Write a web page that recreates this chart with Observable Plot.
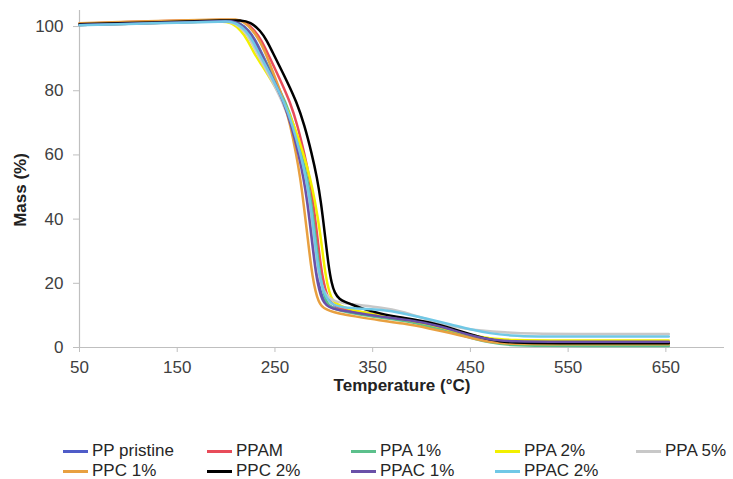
<!DOCTYPE html>
<html>
<head>
<meta charset="utf-8">
<script src="https://cdn.jsdelivr.net/npm/d3@7"></script>
<script src="https://cdn.jsdelivr.net/npm/@observablehq/plot@0.6"></script>
<style>
  body { margin: 0; background: #fff; }
  #wrap { position: relative; width: 733px; height: 479px; font-family: "Liberation Sans", Arial, sans-serif; }
  #legend { position: absolute; left: 0; top: 0; width: 733px; height: 479px; pointer-events: none; }
  .item { position: absolute; display: flex; align-items: center; font-size: 17px; color: #262626; white-space: nowrap; transform: translateY(-50%); }
  .swatch { width: 25px; height: 3px; margin-right: 4px; }
</style>
</head>
<body>
<div id="wrap"><div id="chart"></div><div id="legend"></div></div>
<script>
const seriesNames = ["PP pristine", "PPAM", "PPA 1%", "PPA 2%", "PPA 5%", "PPC 1%", "PPC 2%", "PPAC 1%", "PPAC 2%"];
const seriesColors = ["#4f5cc8", "#e84c5a", "#5cc08c", "#f2f000", "#c8c8c8", "#e8a040", "#000000", "#6a50a8", "#70c8e6"];
const xTicks = [50, 150, 250, 350, 450, 550, 650];
const yTicks = [0, 20, 40, 60, 80, 100];

// [temperature °C, mass %]
const ppPristine = [[50,100.5],[100,100.9],[150,101.3],[200,101.7],[206,101.7],[213.5,101.2],[223.5,98.8],[230.5,95.5],[236,92],[243.3,87.5],[251,82.5],[259.8,76.6],[267.5,69.5],[275.3,60],[280.1,53],[284,45.6],[288,35.5],[292,25],[295,19.5],[298,16],[301,14.2],[306,12.8],[313,12],[330,11],[358,10],[380,9.2],[409,7.6],[430,5.8],[450,3.8],[470,2.2],[490,1.7],[550,1.6],[600,1.6],[653,1.6]];
const ppam = [[50,100.9],[100,101.4],[150,101.8],[200,102.1],[212,102.1],[219.5,101.5],[229.5,98.8],[236.5,95.5],[242,92],[249.1,87.5],[256.7,82.5],[265.3,76.6],[272.9,69.5],[280.4,60],[285.2,53],[289,45.6],[293,35.5],[297,25],[300,20],[303,16.5],[306,14.5],[311,13],[318,12],[335,11],[358,10.2],[380,9.2],[409,7.4],[430,5.4],[450,3.4],[470,1.8],[490,1.3],[550,1.2],[600,1.2],[653,1.2]];
const ppa1 = [[50,100.6],[100,101],[150,101.4],[200,101.8],[205,101.8],[212.5,101.3],[222.5,98.8],[229.5,95.5],[235,92],[242.9,87.5],[251.3,82.5],[260.7,76.6],[269.2,69.5],[277.5,60],[282.8,53],[287,45.6],[291,35.5],[295,25],[298,19.5],[301,15.5],[304,13.5],[309,12.3],[316,11.5],[335,10.3],[358,9.3],[380,8.5],[409,6.5],[430,4.8],[450,3],[470,1.5],[490,0.7],[520,0.5],[600,0.5],[653,0.5]];
const ppa2 = [[50,100.5],[100,100.9],[150,101.3],[198,101.7],[205.5,101.2],[215.5,98.8],[222.5,95.5],[228,92],[237.6,87.5],[247.7,82.5],[259.2,76.6],[269.4,69.5],[279.5,60],[285.9,53],[291,45.6],[296.5,35.5],[300.5,25],[304,19],[307.5,15.5],[311,14],[318,12.8],[326,12],[340,11],[358,9.8],[380,9],[409,7.2],[430,5.4],[450,3.8],[470,2.8],[490,2.3],[550,2.2],[600,2.2],[653,2.2]];
const ppa5 = [[50,100.5],[100,100.9],[150,101.3],[200,101.6],[201,101.6],[208.5,101.1],[218.5,98.8],[225.5,95.5],[231,92],[239.2,87.5],[247.9,82.5],[257.7,76.6],[266.5,69.5],[275.2,60],[280.6,53],[285,45.6],[289,35.5],[293,25],[296,21],[300,17.5],[305,15.5],[312,14.3],[324,13.6],[340,13.1],[358,12.5],[380,11.3],[399,9.4],[427,6.8],[445,5.9],[460,5.3],[485,4.7],[512,4.3],[560,4.2],[600,4.2],[653,4.2]];
const ppc1 = [[50,101],[100,101.5],[150,101.9],[200,102.2],[210,102.3],[217.5,101.7],[227.5,98.8],[234.5,95.5],[240,92],[245.9,87.5],[252.2,82.5],[259.3,76.6],[265.6,69.5],[271.9,60],[275.8,53],[279,45.6],[283,35.5],[287,25],[290,19.5],[293,15.8],[296,13.5],[300,12.2],[306,11.4],[315,10.6],[330,9.8],[358,8.4],[380,7.6],[409,5.9],[430,4.5],[447,3.2],[470,1.6],[490,1.1],[550,1.0],[600,1.0],[653,1.0]];
const ppc2 = [[50,100.7],[100,101.1],[150,101.5],[200,101.9],[215,102.0],[225,101.4],[235,98.8],[242,95.5],[247.5,92],[255,87.5],[263,82.5],[272,76.6],[280,69.5],[288,60],[293,53],[297,45.6],[301,35.5],[305,25],[308,20],[311,17],[316,15],[322,14.2],[327,13.6],[340,12],[358,10.5],[380,9.3],[409,7.9],[437,5.3],[460,3.2],[480,1.8],[500,1.4],[550,1.3],[600,1.3],[653,1.3]];
const ppac1 = [[50,100.5],[100,100.9],[150,101.3],[200,101.7],[205,101.7],[212.5,101.2],[222.5,98.8],[229.5,95.5],[235,92],[242.3,87.5],[250,82.5],[258.8,76.6],[266.5,69.5],[274.3,60],[279.1,53],[283,45.6],[287,35.5],[291,25],[294,19.5],[297,16],[300,14],[305,12.6],[312,11.8],[330,11],[358,9.6],[380,8.8],[409,7.4],[430,5.6],[450,3.8],[470,2.4],[490,1.9],[550,1.8],[600,1.8],[653,1.8]];
const ppac2 = [[50,100.4],[100,100.8],[150,101.2],[200,101.6],[203,101.6],[210.5,101.1],[220.5,98.8],[227.5,95.5],[233,92],[241.1,87.5],[249.6,82.5],[259.2,76.6],[267.8,69.5],[276.4,60],[281.7,53],[286,45.6],[290,35.5],[294,25],[297.5,20],[301,16.5],[305,14.6],[310,13.2],[318,12.5],[340,12],[358,11.8],[380,10.8],[409,8.7],[430,7.2],[450,5.6],[470,4.4],[490,3.7],[520,3.4],[550,3.4],[600,3.4],[653,3.4]];

const seriesData = [ppPristine, ppam, ppa1, ppa2, ppa5, ppc1, ppc2, ppac1, ppac2];

const lineMarks = seriesData.map((pts, i) =>
  Plot.line(pts.map(([T, m]) => ({T, mass: m})), {
    x: "T", y: "mass", stroke: seriesColors[i], strokeWidth: 2.5, curve: "basis"
  })
);

const chart = Plot.plot({
  width: 733,
  height: 400,
  marginLeft: 79,
  marginRight: 9,
  marginTop: 10,
  marginBottom: 53,
  x: {domain: [50, 710]},
  y: {domain: [0, 105]},
  style: {fontFamily: "'Liberation Sans', Arial, sans-serif", background: "white", overflow: "visible"},
  marks: [
    Plot.ruleY([0], {stroke: "#bfbfbf", strokeWidth: 1.2}),
    Plot.ruleX([50], {y1: 0, y2: 105, stroke: "#bfbfbf", strokeWidth: 1.2}),
    Plot.axisX({ticks: xTicks, tickSize: 5, tickPadding: 8, fontSize: 17, stroke: "#bfbfbf", fill: "#404040", label: null}),
    Plot.axisY({ticks: yTicks, tickSize: 6, tickPadding: 10, fontSize: 17, stroke: "#bfbfbf", fill: "#404040", label: null}),
    ...lineMarks,
    Plot.text(["Temperature (°C)"], {text: d => d, frameAnchor: "bottom", lineAnchor: "middle", textAnchor: "middle", dy: 38, fontWeight: "bold", fontSize: 17, fill: "#222"}),
    Plot.text(["Mass (%)"], {text: d => d, frameAnchor: "left", lineAnchor: "middle", textAnchor: "middle", dx: -59, dy: 11, rotate: -90, fontWeight: "bold", fontSize: 17, fill: "#222"})
  ]
});
document.getElementById("chart").appendChild(chart);

// legend (HTML, below the SVG)
const legendCols = [63, 207, 351, 495, 636];
const legendRows = [451, 471];
const legend = document.getElementById("legend");
seriesNames.forEach((name, i) => {
  const row = i < 5 ? 0 : 1;
  const col = i < 5 ? i : i - 5;
  const item = document.createElement("div");
  item.className = "item";
  item.style.left = legendCols[col] + "px";
  item.style.top = legendRows[row] + "px";
  const sw = document.createElement("span");
  sw.className = "swatch";
  sw.style.background = seriesColors[i];
  const label = document.createElement("span");
  label.textContent = name;
  item.appendChild(sw);
  item.appendChild(label);
  legend.appendChild(item);
});
</script>
</body>
</html>
